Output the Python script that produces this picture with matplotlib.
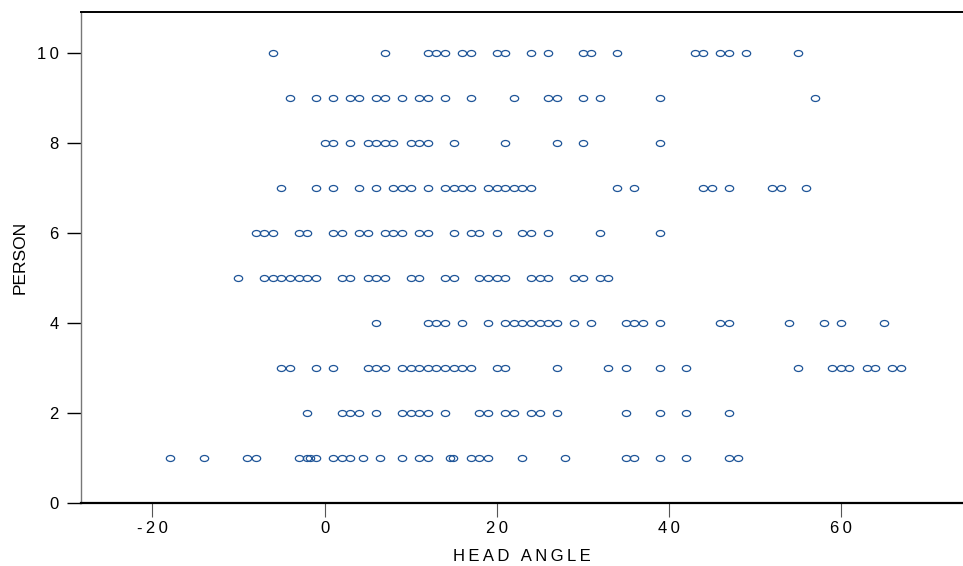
import matplotlib
matplotlib.use("Agg")
import matplotlib.pyplot as plt
from matplotlib.path import Path
from matplotlib.transforms import Affine2D

# Data: head angles for each person
person_ids = [1, 2, 3, 4, 5, 6, 7, 8, 9, 10]
angles_p1 = [-18, -14, -9, -8, -3, -2, -1.7, -1, 1, 2, 3, 4.5, 6.5, 9, 11, 12,
             14.6, 14.9, 17, 18, 19, 23, 28, 35, 36, 39, 42, 47, 48]
angles_p2 = [-2, 2, 3, 4, 6, 9, 10, 11, 12, 14, 18, 19, 21, 22, 24, 25, 27,
             35, 39, 42, 47]
angles_p3 = [-5, -4, -1, 1, 5, 6, 7, 9, 10, 11, 12, 13, 14, 15, 16, 17, 20, 21,
             27, 33, 35, 39, 42, 55, 59, 60, 61, 63, 64, 66, 67]
angles_p4 = [6, 12, 13, 14, 16, 19, 21, 22, 23, 24, 25, 26, 27, 29, 31, 35, 36,
             37, 39, 46, 47, 54, 58, 60, 65]
angles_p5 = [-10, -7, -6, -5, -4, -3, -2, -1, 2, 3, 5, 6, 7, 10, 11, 14, 15, 18,
             19, 20, 21, 24, 25, 26, 29, 30, 32, 33]
angles_p6 = [-8, -7, -6, -3, -2, 1, 2, 4, 5, 7, 8, 9, 11, 12, 15, 17, 18, 20,
             23, 24, 26, 32, 39]
angles_p7 = [-5, -1, 1, 4, 6, 8, 9, 10, 12, 14, 15, 16, 17, 19, 20, 21, 22, 23,
             24, 34, 36, 44, 45, 47, 52, 53, 56]
angles_p8 = [0, 1, 3, 5, 6, 7, 8, 10, 11, 12, 15, 21, 27, 30, 39]
angles_p9 = [-4, -1, 1, 3, 4, 6, 7, 9, 11, 12, 14, 17, 22, 26, 27, 30, 32, 39, 57]
angles_p10 = [-6, 7, 12, 13, 14, 16, 17, 20, 21, 24, 26, 30, 31, 34, 43, 44, 46,
              47, 49, 55]
all_angles = [angles_p1, angles_p2, angles_p3, angles_p4, angles_p5,
              angles_p6, angles_p7, angles_p8, angles_p9, angles_p10]

x_ticks = [-20, 0, 20, 40, 60]
y_ticks = [0, 2, 4, 6, 8, 10]
x_label = "HEAD ANGLE"
y_label = "PERSON"

TS = "\u2009"  # thin space used as letter spacing


def spaced(s):
    return TS.join(list(s))


plt.rcParams['font.family'] = ['Liberation Sans', 'DejaVu Sans']

fig = plt.figure(figsize=(9.63, 5.66), dpi=100)
ax = fig.add_axes([81 / 963, (566 - 503) / 566, 1 - 81 / 963, (503 - 12) / 566])

ellipse = Path.unit_circle().transformed(Affine2D().scale(1.0, 0.72))
color = '#1f5598'
for pid, angs in zip(person_ids, all_angles):
    ax.plot(angs, [pid] * len(angs), linestyle='none', marker=ellipse,
            markersize=6.0, markerfacecolor='none', markeredgecolor=color,
            markeredgewidth=0.9)

ax.set_xlim(-28.3, 74.2)
ax.set_ylim(0, 10.9)
ax.set_xticks(x_ticks)
ax.set_yticks(y_ticks)
ax.set_xticklabels([spaced(str(t)) for t in x_ticks])
ax.set_yticklabels([spaced(str(t)) for t in y_ticks])

ax.spines['right'].set_visible(False)
ax.spines['top'].set_linewidth(1.4)
ax.spines['top'].set_color('black')
ax.spines['bottom'].set_linewidth(1.6)
ax.spines['bottom'].set_color('black')
ax.spines['left'].set_linewidth(1.0)
ax.spines['left'].set_color('#777777')

ax.tick_params(axis='y', direction='out', length=10, width=1.0, color='black',
               labelsize=12, pad=6)
ax.tick_params(axis='x', direction='out', length=10, width=0.8, color='#555555',
               labelsize=12, pad=3)

ax.set_xlabel(spaced(x_label), fontsize=12, labelpad=9)
ax.set_ylabel(y_label, fontsize=12.5, labelpad=7)

fig.savefig('out.png', dpi=100)
